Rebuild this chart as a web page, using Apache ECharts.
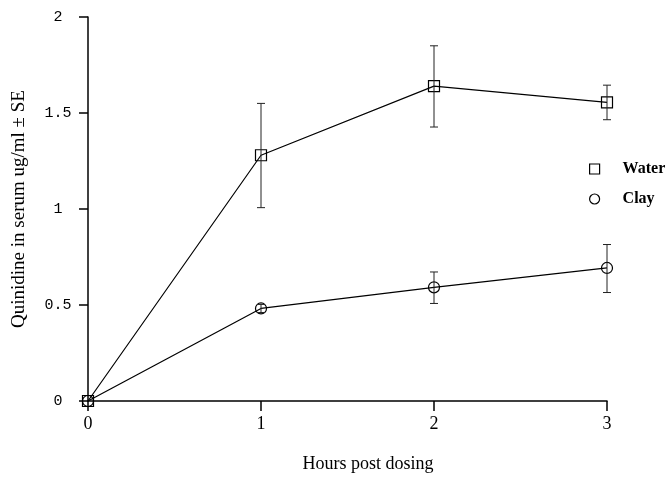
<!DOCTYPE html>
<html>
<head>
<meta charset="utf-8">
<script src="https://cdn.jsdelivr.net/npm/echarts@6/dist/echarts.min.js"></script>
<style>html,body{margin:0;padding:0;background:#fff}#c{width:670px;height:478px}</style>
</head>
<body>
<div id="c"></div>
<script>
// Data
var hours = [0, 1, 2, 3];
var waterMean = [0, 1.28, 1.64, 1.555];
var waterLow  = [0, 1.007, 1.427, 1.465];
var waterHigh = [0, 1.55, 1.85, 1.645];
var clayMean  = [0, 0.482, 0.592, 0.693];
var clayLow   = [0, 0.461, 0.508, 0.565];
var clayHigh  = [0, 0.503, 0.672, 0.815];
var xTicks = [0, 1, 2, 3];
var yTicks = [0, 0.5, 1, 1.5, 2];

function pts(xs, ys) { return xs.map(function (x, i) { return [x, ys[i]]; }); }
function errs(xs, lo, hi) {
  var out = [];
  xs.forEach(function (x, i) { if (hi[i] > lo[i]) out.push([x, lo[i], hi[i]]); });
  return out;
}
function errRender(params, api) {
  var x = api.value(0);
  var lo = api.coord([x, api.value(1)]);
  var hi = api.coord([x, api.value(2)]);
  var w = 4;
  var st = { stroke: '#222', lineWidth: 1, fill: null };
  return {
    type: 'group',
    children: [
      { type: 'line', shape: { x1: lo[0], y1: lo[1], x2: hi[0], y2: hi[1] }, style: st },
      { type: 'line', shape: { x1: lo[0] - w, y1: lo[1], x2: lo[0] + w, y2: lo[1] }, style: st },
      { type: 'line', shape: { x1: hi[0] - w, y1: hi[1], x2: hi[0] + w, y2: hi[1] }, style: st }
    ]
  };
}

var chart = echarts.init(document.getElementById('c'), null, { renderer: 'canvas' });
var markerStyle = { color: 'rgba(255,255,255,0)', borderColor: '#000', borderWidth: 1.2 };
chart.setOption({
  animation: false,
  backgroundColor: '#fff',
  grid: { left: 88, right: 63, top: 17, bottom: 75, containLabel: false },
  legend: {
    orient: 'vertical',
    left: 584,
    top: 156,
    itemWidth: 10,
    itemHeight: 10,
    itemGap: 14,
    textStyle: { fontFamily: 'Liberation Serif', fontSize: 16, fontWeight: 'bold', color: '#000', padding: [0, 0, 0, 18] },
    data: [
      { name: 'Water', icon: 'rect', itemStyle: markerStyle },
      { name: 'Clay', icon: 'circle', itemStyle: markerStyle }
    ]
  },
  xAxis: {
    type: 'value',
    min: xTicks[0], max: xTicks[xTicks.length - 1], interval: 1,
    name: 'Hours post dosing',
    nameLocation: 'middle',
    nameGap: 54,
    nameTextStyle: { fontFamily: 'Liberation Serif', fontSize: 18, color: '#000', padding: [0, 0, 0, 41] },
    axisLine: { lineStyle: { color: '#000', width: 1.5 } },
    axisTick: { inside: false, length: 10, lineStyle: { color: '#000', width: 1.5 } },
    axisLabel: { margin: 14, fontFamily: 'Liberation Serif', fontSize: 18, color: '#000' },
    splitLine: { show: false }
  },
  yAxis: {
    type: 'value',
    min: yTicks[0], max: yTicks[yTicks.length - 1], interval: 0.5,
    name: 'Quinidine in serum ug/ml \u00b1 SE',
    nameLocation: 'middle',
    nameGap: 59,
    nameTextStyle: { fontFamily: 'Liberation Serif', fontSize: 19, color: '#000' },
    axisLine: { lineStyle: { color: '#000', width: 1.5 } },
    axisTick: { inside: false, length: 9, lineStyle: { color: '#000', width: 1.5 } },
    axisLabel: { margin: 30, align: 'center', fontFamily: 'Liberation Mono', fontSize: 15, color: '#000',
      formatter: function (v) { return String(v); } },
    splitLine: { show: false }
  },
  series: [
    {
      name: 'Water', type: 'line', data: pts(hours, waterMean),
      symbol: 'rect', symbolSize: 11, showAllSymbol: true,
      lineStyle: { color: '#000', width: 1.2 }, itemStyle: markerStyle, z: 3
    },
    {
      name: 'Clay', type: 'line', data: pts(hours, clayMean),
      symbol: 'circle', symbolSize: 11, showAllSymbol: true,
      lineStyle: { color: '#000', width: 1.2 }, itemStyle: markerStyle, z: 3
    },
    { name: 'WaterErr', type: 'custom', renderItem: errRender, data: errs(hours, waterLow, waterHigh), z: 4, silent: true },
    { name: 'ClayErr', type: 'custom', renderItem: errRender, data: errs(hours, clayLow, clayHigh), z: 4, silent: true }
  ]
});
</script>
</body>
</html>
